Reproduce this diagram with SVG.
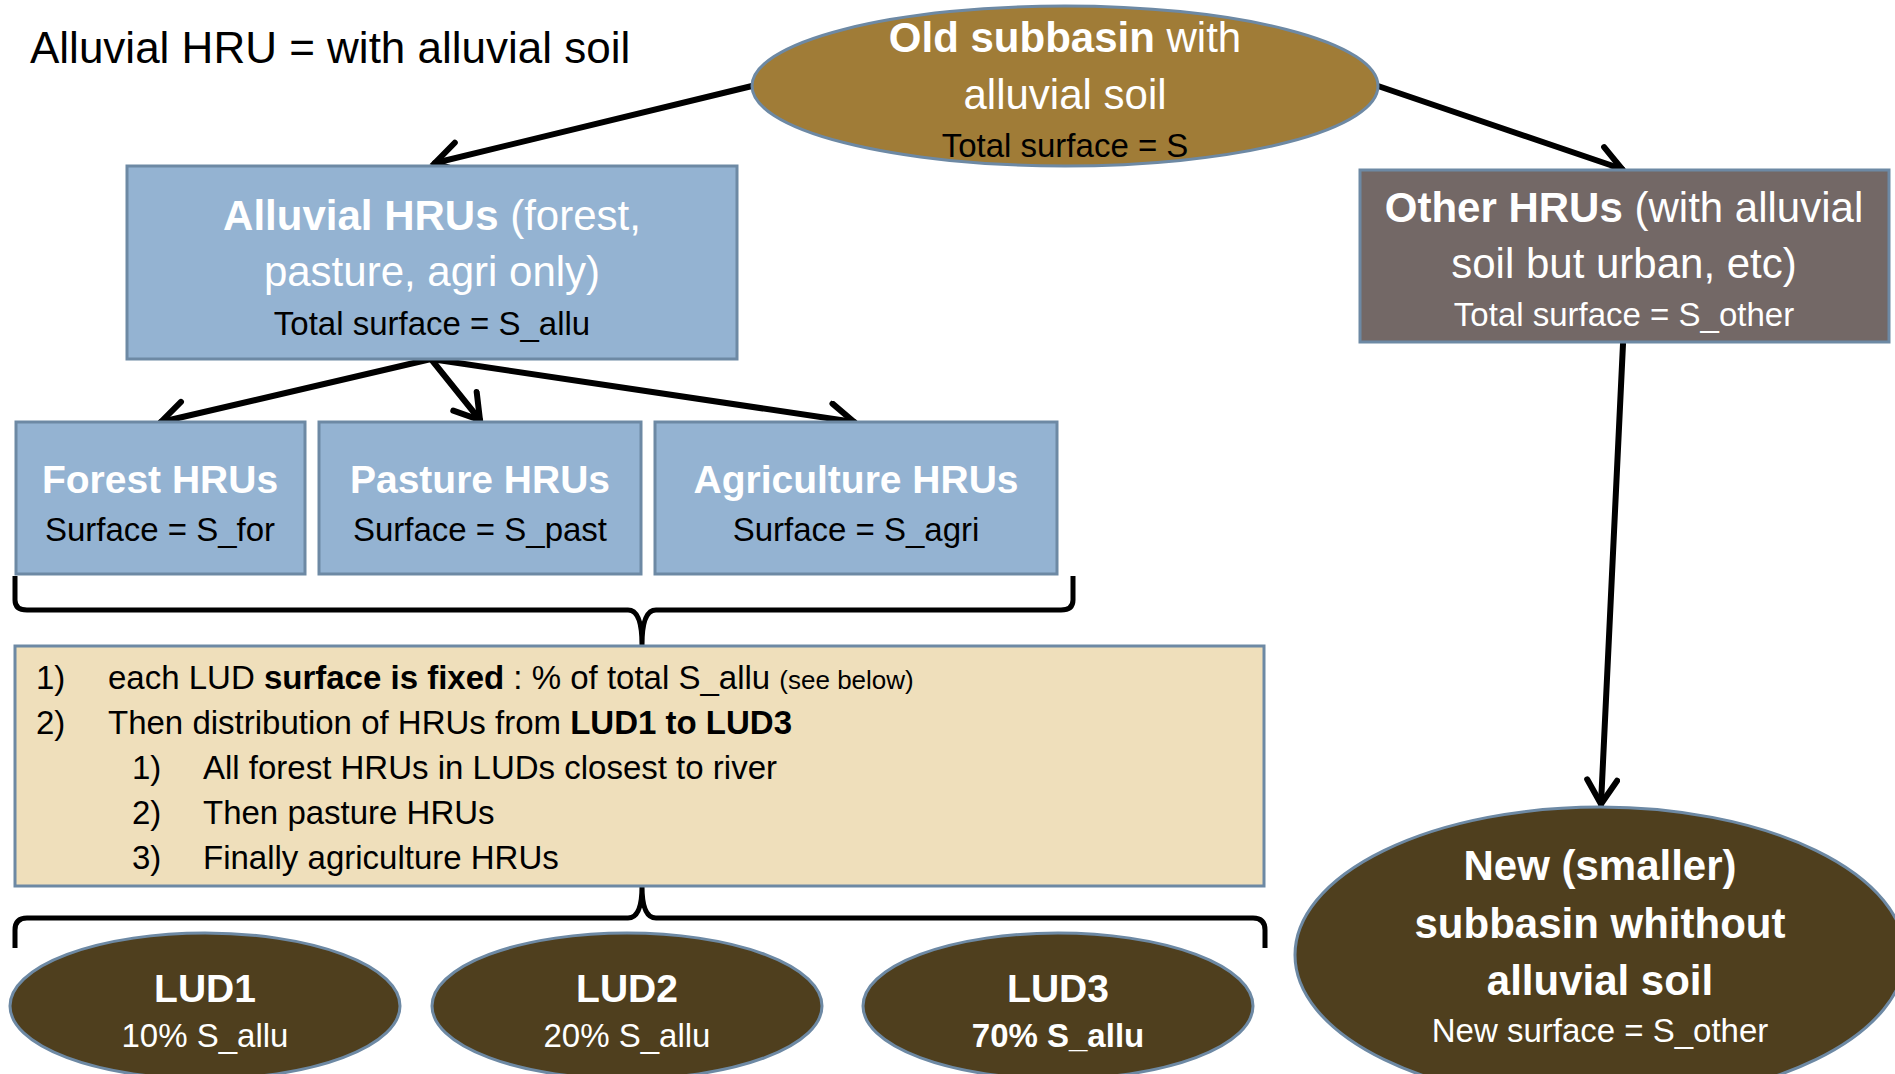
<svg xmlns="http://www.w3.org/2000/svg" width="1895" height="1074" viewBox="0 0 1895 1074">
<style>
text{font-family:"Liberation Sans",Arial,sans-serif;}
.node{stroke:#6d89a4;stroke-width:3;}
.blue{fill:#94b3d2;}
.w{fill:#ffffff;}
.k{fill:#000000;}
.b{font-weight:bold;}
.big{font-size:42px;}
.mid{font-size:39px;}
.n{font-size:33px;}
.conn{stroke:#000;stroke-width:6;fill:none;stroke-linecap:round;}
.brace{stroke:#000;stroke-width:5;fill:none;stroke-linejoin:round;}
</style>
<defs>
<marker id="arr" markerUnits="userSpaceOnUse" markerWidth="44" markerHeight="44" refX="30" refY="18" orient="auto">
<path d="M6,3 L30,18 L6,33" fill="none" stroke="#000" stroke-width="6" stroke-linecap="round" stroke-linejoin="miter"/>
</marker>
</defs>
<rect width="1895" height="1074" fill="#ffffff"/>

<text x="30" y="63" font-size="44" class="k">Alluvial HRU = with alluvial soil</text>

<g id="connectors">
<line class="conn" x1="752" y1="86" x2="435" y2="163" marker-end="url(#arr)"/>
<line class="conn" x1="1378" y1="86" x2="1622" y2="169" marker-end="url(#arr)"/>
<line class="conn" x1="1623" y1="344" x2="1601" y2="804" marker-end="url(#arr)"/>
<line class="conn" x1="431" y1="359" x2="161" y2="422" marker-end="url(#arr)"/>
<line class="conn" x1="431" y1="359" x2="480" y2="420" marker-end="url(#arr)"/>
<line class="conn" x1="431" y1="359" x2="854" y2="422" marker-end="url(#arr)"/>
<path class="brace" d="M15,576 L15,600 Q15,610 27,610 L628,610 Q642,610 642,645 Q642,610 656,610 L1061,610 Q1073,610 1073,600 L1073,576"/>
<path class="brace" d="M15,948 L15,930 Q15,918 27,918 L628,918 Q642,918 642,886 Q642,918 656,918 L1253,918 Q1265,918 1265,930 L1265,948"/>
</g>

<g id="old-subbasin">
<ellipse class="node" cx="1065" cy="86" rx="313" ry="80" fill="#a07c37"/>
<text x="1065" y="52" text-anchor="middle" class="big w"><tspan class="b">Old subbasin</tspan> with</text>
<text x="1065" y="109" text-anchor="middle" class="big w">alluvial soil</text>
<text x="1065" y="157" text-anchor="middle" class="n k">Total surface = S</text>
</g>

<g id="alluvial-hrus">
<rect class="node blue" x="127" y="166" width="610" height="193"/>
<text x="432" y="230" text-anchor="middle" class="big w"><tspan class="b">Alluvial HRUs</tspan> (forest,</text>
<text x="432" y="286" text-anchor="middle" class="big w">pasture, agri only)</text>
<text x="432" y="335" text-anchor="middle" class="n k">Total surface = S_allu</text>
</g>

<g id="other-hrus">
<rect class="node" x="1360" y="170" width="529" height="172" fill="#736866"/>
<text x="1624" y="222" text-anchor="middle" class="big w"><tspan class="b">Other HRUs</tspan> (with alluvial</text>
<text x="1624" y="278" text-anchor="middle" class="big w">soil but urban, etc)</text>
<text x="1624" y="326" text-anchor="middle" class="n w">Total surface = S_other</text>
</g>

<g id="forest-hrus">
<rect class="node blue" x="16" y="422" width="289" height="152"/>
<text x="160" y="493" text-anchor="middle" class="mid b w">Forest HRUs</text>
<text x="160" y="541" text-anchor="middle" class="n k">Surface = S_for</text>
</g>

<g id="pasture-hrus">
<rect class="node blue" x="319" y="422" width="322" height="152"/>
<text x="480" y="493" text-anchor="middle" class="mid b w">Pasture HRUs</text>
<text x="480" y="541" text-anchor="middle" class="n k">Surface = S_past</text>
</g>

<g id="agriculture-hrus">
<rect class="node blue" x="655" y="422" width="402" height="152"/>
<text x="856" y="493" text-anchor="middle" class="mid b w">Agriculture HRUs</text>
<text x="856" y="541" text-anchor="middle" class="n k">Surface = S_agri</text>
</g>

<g id="rules">
<rect class="node" x="15" y="646" width="1249" height="240" fill="#efdfbb"/>
<text x="36" y="689" class="n k">1)</text>
<text x="108" y="689" class="n k">each LUD <tspan class="b">surface is fixed</tspan> : % of total S_allu <tspan font-size="26">(see below)</tspan></text>
<text x="36" y="734" class="n k">2)</text>
<text x="108" y="734" class="n k">Then distribution of HRUs from <tspan class="b">LUD1 to LUD3</tspan></text>
<text x="132" y="779" class="n k">1)</text>
<text x="203" y="779" class="n k">All forest HRUs in LUDs closest to river</text>
<text x="132" y="824" class="n k">2)</text>
<text x="203" y="824" class="n k">Then pasture HRUs</text>
<text x="132" y="869" class="n k">3)</text>
<text x="203" y="869" class="n k">Finally agriculture HRUs</text>
</g>

<g id="lud1">
<ellipse class="node" cx="205" cy="1006" rx="195" ry="73" fill="#4f3f1e"/>
<text x="205" y="1002" text-anchor="middle" class="mid b w">LUD1</text>
<text x="205" y="1047" text-anchor="middle" class="n w">10% S_allu</text>
</g>

<g id="lud2">
<ellipse class="node" cx="627" cy="1006" rx="195" ry="73" fill="#4f3f1e"/>
<text x="627" y="1002" text-anchor="middle" class="mid b w">LUD2</text>
<text x="627" y="1047" text-anchor="middle" class="n w">20% S_allu</text>
</g>

<g id="lud3">
<ellipse class="node" cx="1058" cy="1006" rx="195" ry="73" fill="#4f3f1e"/>
<text x="1058" y="1002" text-anchor="middle" class="mid b w">LUD3</text>
<text x="1058" y="1047" text-anchor="middle" class="n b w">70% S_allu</text>
</g>

<g id="new-subbasin">
<ellipse class="node" cx="1600" cy="955" rx="305" ry="148" fill="#4f3f1e"/>
<text x="1600" y="880" text-anchor="middle" class="big b w">New (smaller)</text>
<text x="1600" y="938" text-anchor="middle" class="big b w">subbasin whithout</text>
<text x="1600" y="995" text-anchor="middle" class="big b w">alluvial soil</text>
<text x="1600" y="1042" text-anchor="middle" class="n w">New surface = S_other</text>
</g>
</svg>
